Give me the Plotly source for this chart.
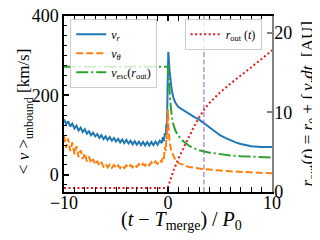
import plotly.graph_objects as go

# ---------------- data ----------------
t_vr = [-10.0, -9.8, -9.6, -9.4, -9.2, -9.0, -8.8, -8.6, -8.4, -8.2, -8.0, -7.8, -7.6, -7.4, -7.2,
        -7.0, -6.8, -6.6, -6.4, -6.2, -6.0, -5.8, -5.6, -5.4, -5.2, -5.0, -4.8, -4.6, -4.4, -4.2,
        -4.0, -3.8, -3.6, -3.4, -3.2, -3.0, -2.8, -2.6, -2.4, -2.2, -2.0, -1.8, -1.6, -1.4, -1.2,
        -1.0, -0.8, -0.6, -0.5, -0.4, -0.3, -0.2, -0.15, -0.1, -0.05, 0.0, 0.03, 0.08, 0.15, 0.25,
        0.35, 0.5, 0.7, 1.0, 1.5, 2.0, 2.5, 3.0, 3.5, 4.0, 4.5, 5.0, 5.5, 6.0, 6.5, 7.0, 7.5, 8.0,
        9.0, 10.0]
v_r = [140, 128, 135, 122, 129, 117, 124, 112, 119, 108, 115, 104, 110, 100, 106,
       97, 103, 93, 100, 90, 97, 88, 95, 86, 93, 84, 91, 82, 89, 80,
       88, 79, 86, 77, 85, 76, 84, 75, 83, 74, 83, 74, 83, 75, 84,
       76, 86, 80, 95, 85, 105, 100, 130, 120, 200, 260, 310, 290, 262, 235,
       215, 196, 182, 171, 162, 153, 146, 139, 129, 118, 108, 100, 93, 87, 82, 78, 75, 72,
       70, 70]

t_vt = [-10.0, -9.8, -9.6, -9.4, -9.2, -9.0, -8.8, -8.6, -8.4, -8.2, -8.0, -7.8, -7.6, -7.4, -7.2,
        -7.0, -6.8, -6.6, -6.4, -6.2, -6.0, -5.8, -5.6, -5.4, -5.2, -5.0, -4.8, -4.6, -4.4, -4.2,
        -4.0, -3.8, -3.6, -3.4, -3.2, -3.0, -2.8, -2.6, -2.4, -2.2, -2.0, -1.8, -1.6, -1.4, -1.2,
        -1.0, -0.8, -0.6, -0.5, -0.4, -0.3, -0.2, -0.15, -0.1, -0.05, 0.0, 0.05, 0.15, 0.3, 0.5,
        0.7, 1.0, 1.5, 2.0, 3.0, 4.0, 5.0, 6.0, 7.0, 8.0, 9.0, 10.0]
v_theta = [100, 68, 92, 60, 82, 52, 72, 45, 62, 40, 54, 34, 46, 30, 40,
           26, 35, 23, 31, 21, 28, 19, 26, 18, 25, 17, 24, 17, 24, 17,
           24, 18, 25, 19, 26, 20, 27, 21, 28, 23, 30, 24, 32, 26, 34,
           28, 37, 32, 45, 40, 70, 60, 100, 90, 140, 165, 120, 85, 62, 48,
           38, 30, 24, 20, 16, 13, 11, 9, 7.5, 6, 5, 4]

t_esc = [-10.0, 0.0, 0.05, 0.1, 0.2, 0.35, 0.5, 0.7, 1.0, 1.5, 2.0, 2.5, 3.0, 4.0, 5.0, 6.0,
         7.0, 8.0, 9.0, 10.0]
v_esc = [272, 272, 250, 225, 190, 150, 128, 112, 98, 84, 74, 67, 62, 56, 52, 49, 47, 46, 45, 44]

t_rout = [-10.0, -0.3, 0.0, 0.2, 0.5, 1.0, 1.5, 2.0, 2.5, 3.0, 3.5, 4.0, 5.0, 6.0, 7.0, 8.0,
          9.0, 10.0]
r_out = [0.5, 0.5, 0.6, 1.4, 2.6, 4.2, 5.6, 6.9, 8.2, 9.4, 10.4, 11.2, 12.5, 13.6, 14.6, 15.6,
         16.7, 17.8]

t_mark = 3.45

x_range = [-10, 10]
y_range = [-43, 400]
y2_range = [0, 22.1]

x_title = ("(<i>t</i>&nbsp;−&nbsp;<i>T</i><sub>merge</sub>)&nbsp;/&nbsp;"
           "<i>P</i><sub>0</sub>")
y_title = "&lt;&nbsp;<i>v</i>&nbsp;&gt;<sub>unbound</sub>&nbsp;[km/s]"
y2_title = ("<i>r</i><sub>out</sub>(<i>t</i>)&nbsp;=&nbsp;<i>r</i><sub>0</sub>&nbsp;+&nbsp;∫&nbsp;"
            "<i>v</i><sub><i>r</i></sub><i>dt</i>&nbsp;&nbsp;[AU]")

# ---------------- figure ----------------
# The page body has an 8px default margin, so the figure is drawn 8px in from
# the window's top-left corner; sizes/margins account for that.
FONT = "Liberation Serif"
fig = go.Figure()

fig.add_trace(go.Scatter(x=t_vr, y=v_r, mode="lines", name="<i>v</i><sub><i>r</i></sub>",
                         line=dict(color="#1f77b4", width=2), legend="legend"))
fig.add_trace(go.Scatter(x=t_vt, y=v_theta, mode="lines", name="<i>v</i><sub><i>θ</i></sub>",
                         line=dict(color="#ff7f0e", width=2, dash="7px,3px"), legend="legend"))
fig.add_trace(go.Scatter(x=t_esc, y=v_esc, mode="lines",
                         name="<i>v</i><sub>esc</sub>(<i>r</i><sub>out</sub>)",
                         line=dict(color="#2ca02c", width=2, dash="12px,3px,2px,3px"),
                         legend="legend"))
fig.add_trace(go.Scatter(x=t_rout, y=r_out, mode="lines", yaxis="y2",
                         name="<i>r</i><sub>out</sub> (<i>t</i>)",
                         line=dict(color="#e41a1c", width=2, dash="2px,2.5px"),
                         legend="legend2"))

fig.add_vline(x=t_mark, line=dict(color="rgba(148,103,189,0.7)", width=1.5, dash="5px,2.5px"))

axis_common = dict(showgrid=False, zeroline=False, showline=True, linewidth=1.5,
                   ticks="inside", ticklabeloverflow="allow",
                   tickfont=dict(family=FONT, size=18, color="black"))

fig.add_annotation(text=x_title, xref="paper", yref="paper", x=0.567, y=-0.16,
                   showarrow=False, font=dict(family=FONT, size=20, color="black"),
                   xanchor="center", yanchor="middle")
fig.add_annotation(text=y_title, xref="paper", yref="paper", x=-0.187, y=0.46,
                   showarrow=False, font=dict(family=FONT, size=17, color="black"),
                   textangle=-90, xanchor="center", yanchor="middle")
fig.add_annotation(text=y2_title, xref="paper", yref="paper", x=1.18, y=0.5,
                   showarrow=False, font=dict(family=FONT, size=17, color="black"),
                   textangle=-90, xanchor="center", yanchor="middle")

fig.update_layout(
    width=312, height=232,
    margin=dict(l=56, r=48, t=8, b=48, autoexpand=False),
    paper_bgcolor="white", plot_bgcolor="white",
    font=dict(family=FONT, color="black"),
    showlegend=True,
    xaxis=dict(range=x_range, linecolor="black", tickcolor="black", mirror="allticks",
               tickmode="array", tickvals=[-10, 0, 10], ticktext=["−10", "0", "10"],
               ticklen=5, tickwidth=1.5, ticklabelstandoff=-6,
               minor=dict(ticks="inside", dtick=1, ticklen=3, tickcolor="black", tickwidth=1),
               **axis_common),
    yaxis=dict(range=y_range, linecolor="black", tickcolor="black",
               tickvals=[0, 200, 400], ticklen=5, tickwidth=1.5,
               minor=dict(ticks="inside", dtick=25, tick0=0, ticklen=3, tickcolor="black",
                          tickwidth=1),
               **axis_common),
    yaxis2=dict(range=y2_range, overlaying="y", side="right", anchor="x",
                linecolor="#808080", tickcolor="#808080",
                tickvals=[0, 10, 20], ticklen=5, tickwidth=1.5, ticklabelstandoff=-3,
                **axis_common),
    legend=dict(x=0.03, y=0.985, xanchor="left", yanchor="top",
                bgcolor="rgba(255,255,255,0.8)", bordercolor="#cccccc", borderwidth=1,
                font=dict(family=FONT, size=12, color="black"), itemwidth=30,
                tracegroupgap=0),
    legend2=dict(x=0.58, y=0.985, xanchor="left", yanchor="top",
                 bgcolor="rgba(255,255,255,0.8)", bordercolor="#cccccc", borderwidth=1,
                 font=dict(family=FONT, size=12, color="black"), itemwidth=30),
)

fig.write_html("out.html")
